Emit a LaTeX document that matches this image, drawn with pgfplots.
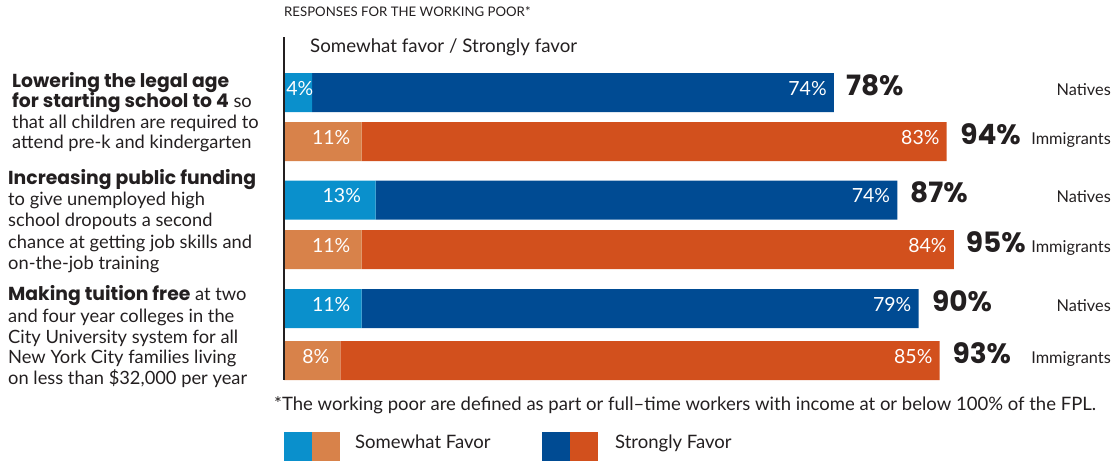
\documentclass[border=0pt]{standalone}
\usepackage{pgfplots}
\pgfplotsset{compat=1.18}
\usepackage{pgfplotstable}
\usepackage{fontspec}
\setmainfont{Lato}
\newfontfamily\hvy{Poppins}[UprightFont=* Bold]
\definecolor{lb}{HTML}{0A90CC}
\definecolor{db}{HTML}{004B93}
\definecolor{lo}{HTML}{D8824A}
\definecolor{do}{HTML}{D2501D}
\definecolor{tx}{HTML}{231F20}

\pgfplotstableread{
y ns is nst ist
-92.5 4 0 74 0
-141.5 0 11 0 83
-200 13 0 74 0
-249.5 0 11 0 84
-308.5 11 0 79 0
-360.5 0 8 0 85
}\data

\newcommand{\LL}[3]{\node[anchor=mid west, inner sep=0pt, text=tx] at (#1,-#2) {\fontsize{18.3}{20}\selectfont #3};}
\newcommand{\BB}[1]{{\hvy\fontsize{18.8}{20}\selectfont #1}}

\begin{document}
\begin{tikzpicture}[x=1pt,y=1pt]
\useasboundingbox (0,0) rectangle (1112,-461);
\begin{axis}[at={(284pt,-380pt)}, anchor=south west, scale only axis,
  width=705pt, height=342pt, xmin=0, xmax=100, ymin=-380, ymax=-38,
  hide axis, clip=false, xbar stacked, bar width=39pt]
\addplot[fill=lb, draw=none] table[x=ns, y=y]{\data};
\addplot[fill=lo, draw=none] table[x=is, y=y]{\data};
\addplot[fill=db, draw=none] table[x=nst, y=y]{\data};
\addplot[fill=do, draw=none] table[x=ist, y=y]{\data};
% label anchors
\coordinate (s1) at (axis cs:0.3,-92.5);
\coordinate (s2) at (axis cs:6.7,-141.5);
\coordinate (s3) at (axis cs:8.2,-200);
\coordinate (s4) at (axis cs:6.7,-249.5);
\coordinate (s5) at (axis cs:6.7,-308.5);
\coordinate (s6) at (axis cs:4.5,-360.5);
\coordinate (g1) at (axis cs:77,-92.5);
\coordinate (g2) at (axis cs:93,-141.5);
\coordinate (g3) at (axis cs:86,-200);
\coordinate (g4) at (axis cs:94,-249.5);
\coordinate (g5) at (axis cs:89,-308.5);
\coordinate (g6) at (axis cs:92,-360.5);
\coordinate (t1) at (axis cs:79.7,-92.5);
\coordinate (t2) at (axis cs:95.9,-141.5);
\coordinate (t3) at (axis cs:88.8,-200);
\coordinate (t4) at (axis cs:96.7,-249.5);
\coordinate (t5) at (axis cs:91.9,-308.5);
\coordinate (t6) at (axis cs:94.8,-360.5);
\end{axis}
\tikzset{inl/.style={text=white, inner sep=0pt, font=\fontsize{19.5}{22}\selectfont},
  tot/.style={text=tx, anchor=mid west, inner sep=0pt, font=\hvy\fontsize{28}{30}\selectfont}}
\node[inl, anchor=mid west] at (s1) {4\%};
\node[inl, anchor=mid] at (s2) {11\%};
\node[inl, anchor=mid] at (s3) {13\%};
\node[inl, anchor=mid] at (s4) {11\%};
\node[inl, anchor=mid] at (s5) {11\%};
\node[inl, anchor=mid] at (s6) {8\%};
\node[inl, anchor=mid east] at (g1) {74\%};
\node[inl, anchor=mid east] at (g2) {83\%};
\node[inl, anchor=mid east] at (g3) {74\%};
\node[inl, anchor=mid east] at (g4) {84\%};
\node[inl, anchor=mid east] at (g5) {79\%};
\node[inl, anchor=mid east] at (g6) {85\%};
\node[tot] at (t1) {78\%};
\node[tot] at (t2) {94\%};
\node[tot] at (t3) {87\%};
\node[tot] at (t4) {95\%};
\node[tot] at (t5) {90\%};
\node[tot] at (t6) {93\%};
% axis line
\draw[line width=2pt, tx] (284,-37) -- (284,-380);
% group names
\foreach \yy/\lab in {92.5/Natives, 141.5/Immigrants, 200/Natives, 249.5/Immigrants, 308.5/Natives, 360.5/Immigrants}
  \node[anchor=mid east, inner sep=0pt, text=tx, font=\fontsize{16.3}{18}\selectfont] at (1111,-\yy) {\lab};
% title
\node[anchor=mid west, inner sep=0pt, text=tx, font=\fontsize{13.2}{15}\selectfont] at (284,-14) {RESPONSES FOR THE WORKING POOR*};
\node[anchor=mid west, inner sep=0pt, text=tx, font=\fontsize{18.7}{21}\selectfont] at (310,-50) {Somewhat favor / Strongly favor};
% left text
\LL{12}{85}{\BB{Lowering the legal age}}
\LL{12}{105}{\BB{for starting school to 4} so}
\LL{12}{126}{that all children are required to}
\LL{12}{146}{attend pre-k and kindergarten}
\LL{8}{182}{\BB{Increasing public funding}}
\LL{8}{203}{to give unemployed high}
\LL{8}{224}{school dropouts a second}
\LL{8}{246}{chance at getting job skills and}
\LL{8}{267}{on-the-job training}
\LL{8}{298}{\BB{Making tuition free} at two}
\LL{8}{320}{and four year colleges in the}
\LL{8}{341}{City University system for all}
\LL{8}{361}{New York City families living}
\LL{8}{382}{on less than \$32,000 per year}
% footnote
\node[anchor=mid west, inner sep=0pt, text=tx, font=\fontsize{18.5}{21}\selectfont] at (274,-408) {*The working poor are defined as part or full--time workers with income at or below 100\% of the FPL.};
% legend
\fill[lb] (284,-432) rectangle (312,-461);
\fill[lo] (312,-432) rectangle (340,-461);
\node[anchor=mid west, inner sep=0pt, text=tx, font=\fontsize{18.5}{21}\selectfont] at (355,-446) {Somewhat Favor};
\fill[db] (542,-432) rectangle (570,-461);
\fill[do] (570,-432) rectangle (598,-461);
\node[anchor=mid west, inner sep=0pt, text=tx, font=\fontsize{18.5}{21}\selectfont] at (615,-446) {Strongly Favor};
\end{tikzpicture}
\end{document}
